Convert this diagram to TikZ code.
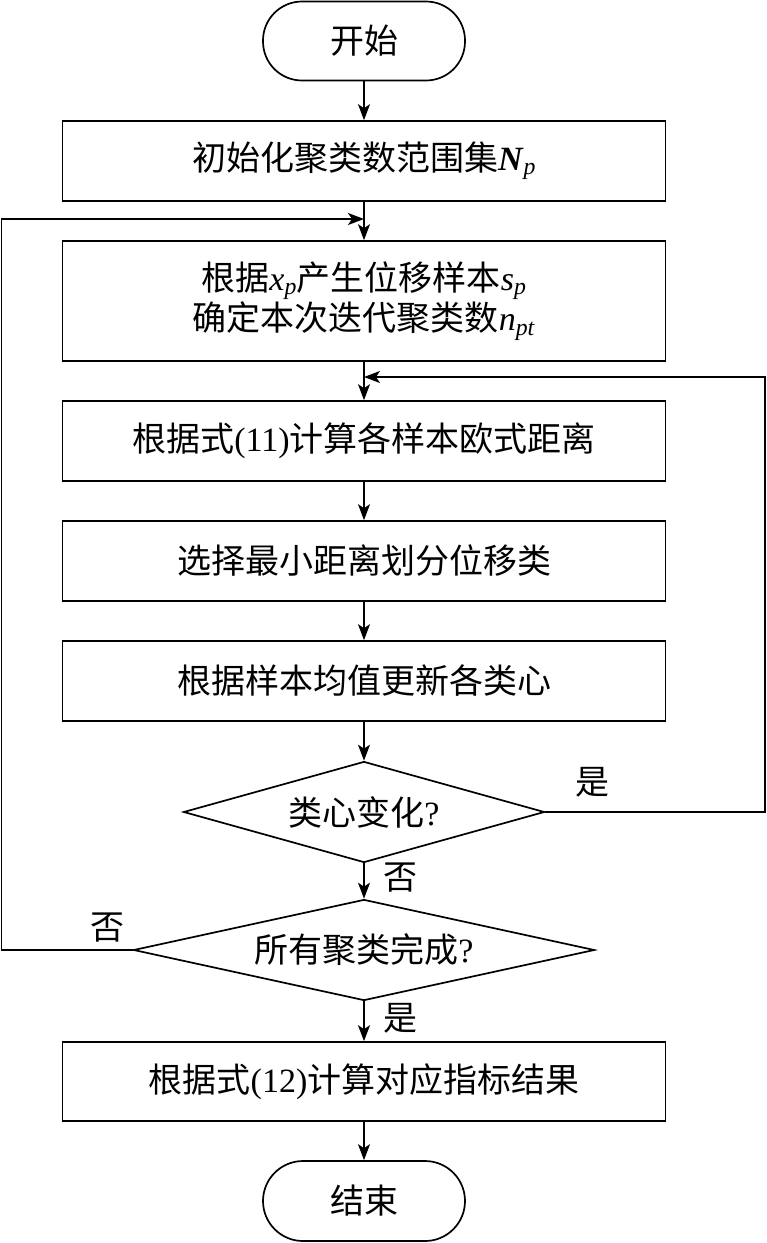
\documentclass[tikz,border=0pt]{standalone}
\usepackage{fontspec}
\setmainfont{Liberation Serif}
\newfontfamily\cjk{Noto Sans CJK SC}
\usetikzlibrary{arrows.meta,shapes.geometric}
\newcommand\vv[2]{\textit{#1}\textsubscript{\textit{#2}}}
\begin{document}
\begin{tikzpicture}[x=1pt,y=-1pt,
  every node/.style={font=\fontsize{34}{40}\selectfont, text=black},
  proc/.style={draw, line width=1.7pt, minimum width=603pt, minimum height=80pt, align=center, inner sep=0pt},
  term/.style={draw, line width=1.7pt, minimum width=202pt, minimum height=79pt, rounded corners=39pt, inner sep=0pt},
  dec/.style={draw, diamond, line width=1.7pt, inner sep=0pt, aspect=3.6},
  arr/.style={line width=1.7pt, -{Stealth[length=16pt,width=12pt,inset=4pt]}},
  lab/.style={inner sep=0pt}]
\useasboundingbox (0,0) rectangle (767,1243);
\node[term] (start) at (364,41) {{\cjk 开始}};
\node[proc] (b1) at (364,161) {{\cjk 初始化聚类数范围集}\textbf{\textit{N}}\textsubscript{\textit{p}}};
\node[proc, minimum height=120pt] (b2) at (364,301) {{\cjk 根据}\vv{x}{p}{\cjk 产生位移样本}\vv{s}{p}\\{\cjk 确定本次迭代聚类数}\vv{n}{pt}};
\node[proc] (b3) at (364,441) {{\cjk 根据式}(11){\cjk 计算各样本欧式距离}};
\node[proc] (b4) at (364,561) {{\cjk 选择最小距离划分位移类}};
\node[proc] (b5) at (364,681) {{\cjk 根据样本均值更新各类心}};
\node[dec, minimum width=361pt, minimum height=101pt] (d1) at (364,812) {{\cjk 类心变化}?};
\node[dec, minimum width=461pt, minimum height=101pt] (d2) at (364,950) {{\cjk 所有聚类完成}?};
\node[proc, minimum height=79pt] (b6) at (364,1081.5) {{\cjk 根据式}(12){\cjk 计算对应指标结果}};
\node[term, minimum height=80pt, rounded corners=40pt] (end) at (364,1201) {{\cjk 结束}};
\coordinate (L1) at (1.5,950);
\coordinate (L2) at (1.5,219);
\coordinate (J1) at (364,219);
\coordinate (R1) at (765,812);
\coordinate (R2) at (765,377);
\coordinate (J2) at (364,377);
\draw[arr] (start) -- (b1);
\draw[arr] (b1) -- (b2);
\draw[arr] (b2) -- (b3);
\draw[arr] (b3) -- (b4);
\draw[arr] (b4) -- (b5);
\draw[arr] (b5) -- (d1);
\draw[arr] (d1) -- (d2);
\draw[arr] (d2) -- (b6);
\draw[arr] (b6) -- (end);
\draw[arr] (d2.west) -- (L1) -- (L2) -- (J1);
\draw[arr] (d1.east) -- (R1) -- (R2) -- (J2);
\node[lab] (yes1) at (592,782) {{\cjk 是}};
\node[lab] (no1) at (400,878) {{\cjk 否}};
\node[lab] (no2) at (107,928) {{\cjk 否}};
\node[lab] (yes2) at (400,1018) {{\cjk 是}};
\end{tikzpicture}
\end{document}
